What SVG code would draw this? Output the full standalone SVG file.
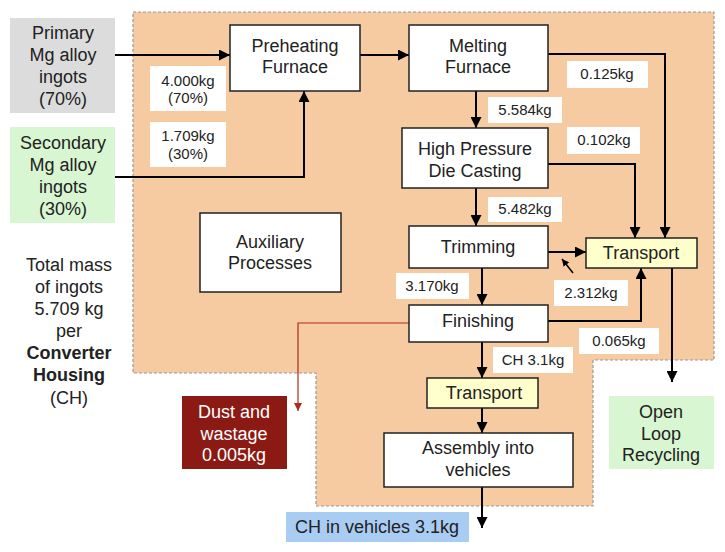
<svg xmlns="http://www.w3.org/2000/svg" width="725" height="552" viewBox="0 0 725 552">
<defs>
<style>
text{font-family:"Liberation Sans",Arial,sans-serif;fill:#222;text-anchor:middle}
.n{font-size:18px}
.l{font-size:15px}
.b{font-weight:bold}
.box{fill:#fff;stroke:#222;stroke-width:1.5}
.tr{fill:#FFFFCC;stroke:#222;stroke-width:1.5}
.lab{fill:#fff}
.c{fill:none;stroke:#000;stroke-width:2;marker-end:url(#ah)}
.red{fill:none;stroke:#B22A1E;stroke-width:1.2;marker-end:url(#rh)}
</style>
<marker id="ah" viewBox="0 0 10 10" refX="10" refY="5" markerWidth="11" markerHeight="11" markerUnits="userSpaceOnUse" orient="auto"><path d="M0,0 L10,5 L0,10 z" fill="#000"/></marker>
<marker id="rh" viewBox="0 0 10 10" refX="10" refY="5" markerWidth="8" markerHeight="8" markerUnits="userSpaceOnUse" orient="auto"><path d="M0,0 L10,5 L0,10 z" fill="#B22A1E"/></marker>
<marker id="sh" viewBox="0 0 10 10" refX="10" refY="5" markerWidth="7" markerHeight="7" markerUnits="userSpaceOnUse" orient="auto"><path d="M0,0 L10,5 L0,10 z" fill="#000"/></marker>
</defs>
<rect width="725" height="552" fill="#fff"/>
<polygon points="133,12 714,12 714,360 593,360 593,506 316,506 316,373 133,373" fill="#F7CBA2" stroke="#999" stroke-width="1.2" stroke-dasharray="3,2"/>

<g id="primary">
<rect x="10" y="18" width="105" height="95" fill="#DCDCDC"/>
<text class="n" x="63" y="39">Primary</text>
<text class="n" x="63" y="61">Mg alloy</text>
<text class="n" x="63" y="83">ingots</text>
<text class="n" x="63" y="105">(70%)</text>
</g>
<g id="secondary">
<rect x="10" y="127" width="105" height="96" fill="#D8F6D2"/>
<text class="n" x="63" y="149">Secondary</text>
<text class="n" x="63" y="171">Mg alloy</text>
<text class="n" x="63" y="193">ingots</text>
<text class="n" x="63" y="215">(30%)</text>
</g>
<g id="total">
<text class="n" x="69" y="271">Total mass</text>
<text class="n" x="69" y="293">of ingots</text>
<text class="n" x="69" y="315">5.709 kg</text>
<text class="n" x="69" y="337">per</text>
<text class="n b" x="69" y="359">Converter</text>
<text class="n b" x="69" y="381">Housing</text>
<text class="n" x="69" y="404">(CH)</text>
</g>

<g id="connectors">
<path class="c" d="M115,55 H230"/>
<path class="c" d="M115,177 H304 V91"/>
<path class="c" d="M360,55 H409"/>
<path class="c" d="M548,54 H665 V238"/>
<path class="c" d="M476,91 V128"/>
<path class="c" d="M548,164 H635 V238"/>
<path class="c" d="M476,188 V226"/>
<path class="c" d="M548,252 H586"/>
<path fill="none" stroke="#000" stroke-width="1.5" marker-end="url(#sh)" d="M573,273 L562,259"/>
<path class="c" d="M482,268 V305"/>
<path class="c" d="M548,321 H641 V268"/>
<path class="c" d="M672,268 V382"/>
<path class="c" d="M482,342 V378"/>
<path class="c" d="M482,408 V433"/>
<path class="c" d="M482,487 V528"/>
<path class="red" d="M409,323 H298 V411"/>
</g>

<g id="labels">
<rect class="lab" x="150" y="66" width="76" height="45"/>
<text class="l" x="188" y="86">4.000kg</text>
<text class="l" x="188" y="103">(70%)</text>
<rect class="lab" x="150" y="122" width="76" height="45"/>
<text class="l" x="188" y="141">1.709kg</text>
<text class="l" x="188" y="159">(30%)</text>
<rect class="lab" x="488" y="97" width="74" height="26"/>
<text class="l" x="525" y="115">5.584kg</text>
<rect class="lab" x="567" y="61" width="81" height="27"/>
<text class="l" x="607" y="79">0.125kg</text>
<rect class="lab" x="567" y="127" width="73" height="27"/>
<text class="l" x="604" y="145">0.102kg</text>
<rect class="lab" x="488" y="197" width="74" height="25"/>
<text class="l" x="525" y="214">5.482kg</text>
<rect class="lab" x="396" y="273" width="73" height="26"/>
<text class="l" x="432" y="291">3.170kg</text>
<rect class="lab" x="554" y="280" width="74" height="26"/>
<text class="l" x="591" y="298">2.312kg</text>
<rect class="lab" x="579" y="328" width="80" height="26"/>
<text class="l" x="619" y="346">0.065kg</text>
<rect class="lab" x="493" y="347" width="80" height="26"/>
<text class="l" x="533" y="365">CH 3.1kg</text>
</g>

<g id="preheating">
<rect class="box" x="230" y="25" width="130" height="66"/>
<text class="n" x="295" y="52">Preheating</text>
<text class="n" x="295" y="73">Furnace</text>
</g>
<g id="melting">
<rect class="box" x="409" y="25" width="139" height="66"/>
<text class="n" x="478" y="52">Melting</text>
<text class="n" x="478" y="73">Furnace</text>
</g>
<g id="hpdc">
<rect class="box" x="402" y="128" width="146" height="60"/>
<text class="n" x="475" y="155">High Pressure</text>
<text class="n" x="475" y="177">Die Casting</text>
</g>
<g id="trimming">
<rect class="box" x="409" y="226" width="139" height="42"/>
<text class="n" x="478" y="253">Trimming</text>
</g>
<g id="transport1">
<rect class="tr" x="586" y="238" width="111" height="30"/>
<text class="n" x="641" y="259">Transport</text>
</g>
<g id="auxiliary">
<rect class="box" x="200" y="213" width="141" height="79"/>
<text class="n" x="270" y="248">Auxiliary</text>
<text class="n" x="270" y="269">Processes</text>
</g>
<g id="finishing">
<rect class="box" x="409" y="305" width="139" height="37"/>
<text class="n" x="478" y="327">Finishing</text>
</g>
<g id="transport2">
<rect class="tr" x="427" y="378" width="111" height="30"/>
<text class="n" x="484" y="399">Transport</text>
</g>
<g id="assembly">
<rect class="box" x="384" y="433" width="189" height="54"/>
<text class="n" x="478" y="454">Assembly into</text>
<text class="n" x="478" y="476">vehicles</text>
</g>
<g id="vehicles">
<rect x="286" y="512" width="183" height="30" fill="#A9CCF3"/>
<text class="n" x="377" y="533">CH in vehicles 3.1kg</text>
</g>
<g id="recycling">
<rect x="609" y="396" width="105" height="73" fill="#D8F6D2"/>
<text class="n" x="661" y="418">Open</text>
<text class="n" x="661" y="440">Loop</text>
<text class="n" x="661" y="461">Recycling</text>
</g>
<g id="dust">
<rect x="182" y="396" width="105" height="73" fill="#8B1A14"/>
<text class="n" x="234" y="418" style="fill:#fff">Dust and</text>
<text class="n" x="234" y="440" style="fill:#fff">wastage</text>
<text class="n" x="234" y="461" style="fill:#fff">0.005kg</text>
</g>
</svg>
